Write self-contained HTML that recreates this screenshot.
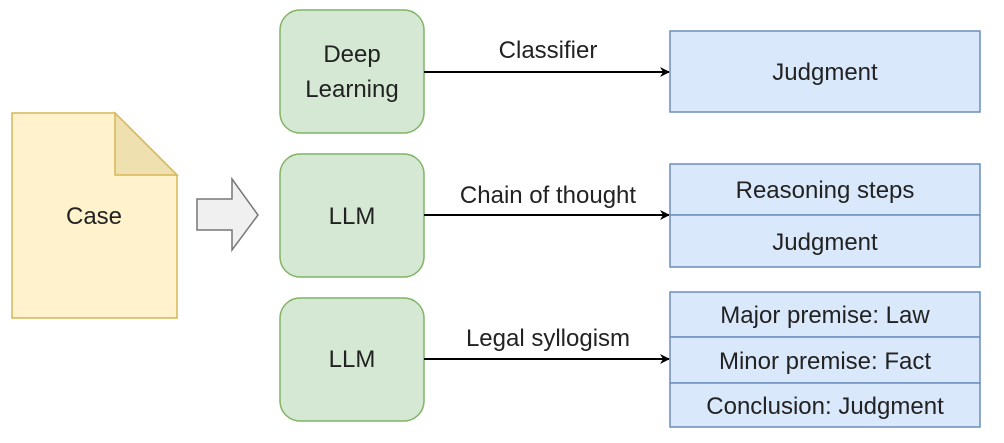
<!DOCTYPE html>
<html><head><meta charset="utf-8"><style>
body{margin:0;background:#fff;width:1004px;height:438px;overflow:hidden}
</style></head><body>
<svg width="1004" height="438" viewBox="0 0 1004 438" xmlns="http://www.w3.org/2000/svg" font-family="Liberation Sans, sans-serif" font-size="24" fill="#222">
<defs><marker id="a" markerWidth="10" markerHeight="10" refX="9" refY="5" orient="auto" markerUnits="userSpaceOnUse"><path d="M0,0 L10,5 L0,10 L3,5 Z" fill="#000"/></marker></defs>
<!-- Case document -->
<path d="M12,113 L115,113 L177,175 L177,318 L12,318 Z" fill="#fff2cc" stroke="#d6b656" stroke-width="1.5"/>
<path d="M115,113 L115,175 L177,175 Z" fill="#efe0b0" stroke="#d6b656" stroke-width="1.5"/>
<text x="94" y="224" text-anchor="middle">Case</text>
<!-- block arrow -->
<path d="M197,199 L232,199 L232,179 L258,215 L232,250 L232,230 L197,230 Z" fill="#f0f0f0" stroke="#777" stroke-width="1.5"/>
<!-- green boxes -->
<rect x="280" y="10" width="144" height="123" rx="20" fill="#d5e8d4" stroke="#82b366" stroke-width="1.5"/>
<text x="352" y="62" text-anchor="middle">Deep</text>
<text x="352" y="97" text-anchor="middle">Learning</text>
<rect x="280" y="154" width="144" height="123" rx="20" fill="#d5e8d4" stroke="#82b366" stroke-width="1.5"/>
<text x="352" y="224" text-anchor="middle">LLM</text>
<rect x="280" y="298" width="144" height="123" rx="20" fill="#d5e8d4" stroke="#82b366" stroke-width="1.5"/>
<text x="352" y="367" text-anchor="middle">LLM</text>
<!-- arrows -->
<line x1="424" y1="72" x2="669" y2="72" stroke="#000" stroke-width="2" marker-end="url(#a)"/>
<text x="548" y="58" text-anchor="middle">Classifier</text>
<line x1="424" y1="215" x2="669" y2="215" stroke="#000" stroke-width="2" marker-end="url(#a)"/>
<text x="548" y="203" text-anchor="middle">Chain of thought</text>
<line x1="424" y1="359" x2="669" y2="359" stroke="#000" stroke-width="2" marker-end="url(#a)"/>
<text x="548" y="346" text-anchor="middle">Legal syllogism</text>
<!-- blue boxes -->
<g fill="#dae8fc" stroke="#6c8ebf" stroke-width="1.5">
<rect x="670" y="31" width="310" height="81"/>
<rect x="670" y="164" width="310" height="51"/>
<rect x="670" y="215" width="310" height="52"/>
<rect x="670" y="292" width="310" height="45"/>
<rect x="670" y="337" width="310" height="46"/>
<rect x="670" y="383" width="310" height="44"/>
</g>
<text x="825" y="80" text-anchor="middle">Judgment</text>
<text x="825" y="198" text-anchor="middle">Reasoning steps</text>
<text x="825" y="250" text-anchor="middle">Judgment</text>
<text x="825" y="323" text-anchor="middle">Major premise: Law</text>
<text x="825" y="369" text-anchor="middle">Minor premise: Fact</text>
<text x="825" y="414" text-anchor="middle">Conclusion: Judgment</text>
</svg>
</body></html>
